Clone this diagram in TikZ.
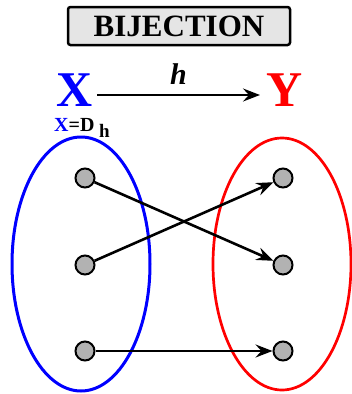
\documentclass[tikz,border=0pt]{standalone}
\usepackage{fontspec}
\setmainfont{Liberation Serif}
\usetikzlibrary{arrows.meta}

\begin{document}
\begin{tikzpicture}[x=1pt,y=-1pt,
    dot/.style={circle,draw,fill=gray!60,line width=2pt,minimum size=19pt,inner sep=0pt},
    map/.style={line width=2.6pt,-{Stealth[length=17pt,width=13pt,inset=6pt]}},
    big/.style={font=\bfseries\fontsize{50}{50}\selectfont,inner sep=0pt,anchor=base,text depth=0pt}]
    \useasboundingbox (0,0) rectangle (352,394);
    \node[draw,line width=2.5pt,rounded corners=2.5pt,fill=gray!20,minimum width=222pt,minimum height=38pt,
        font=\bfseries\fontsize{31}{31}\selectfont] (title) at (179,26) {BIJECTION};
    \node[big,blue] (X) at (75,106) {X};
    \node[big,red] (Y) at (285,106) {Y};
    \draw[map] (97,95) coordinate (a) -- (260,95) coordinate (b) node[midway,above=6pt,font=\bfseries\itshape\fontsize{30}{30}\selectfont] (h) {h};
    \node[font=\bfseries\fontsize{20}{20}\selectfont,inner sep=0pt,anchor=base west] (dom) at (54,131)
        {\textcolor{blue}{X}=D\raisebox{-6pt}{\fontsize{19}{19}\selectfont\ h}};
    \draw[blue,line width=3pt] (81,264) ellipse [x radius=69,y radius=127];
    \draw[red,line width=2.7pt] (282,264) ellipse [x radius=69,y radius=126];
    \foreach \i/\y in {1/178,2/265,3/351} {
        \node[dot] (l\i) at (85,\y) {};
        \node[dot] (r\i) at (283,\y) {};
    }
    \draw[map] (l1) -- (r2);
    \draw[map] (l2) -- (r1);
    \draw[map] (l3) -- (r3);
\end{tikzpicture}
\end{document}
